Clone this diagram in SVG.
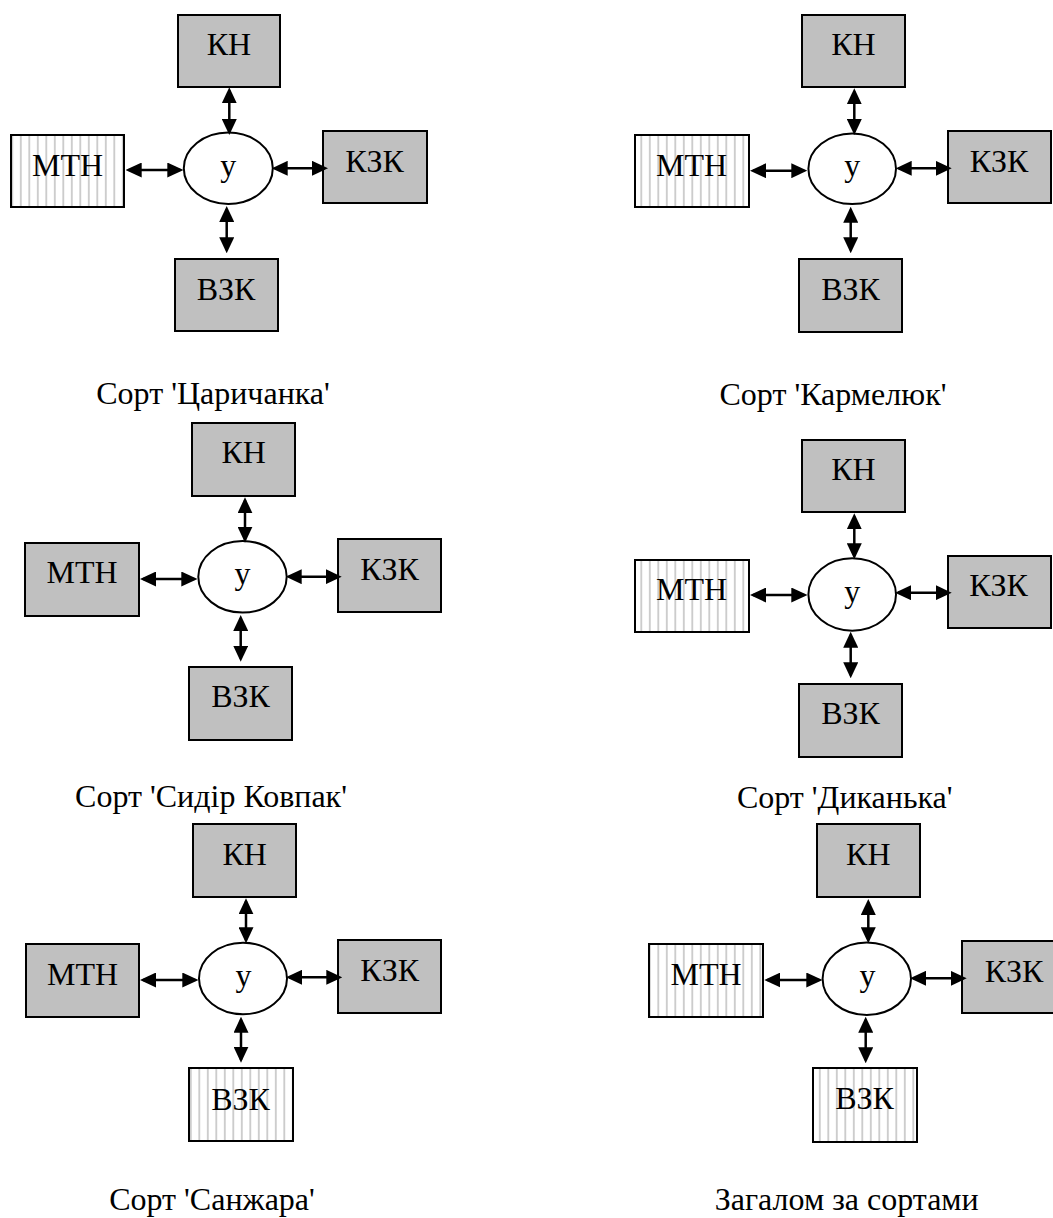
<svg xmlns="http://www.w3.org/2000/svg" width="1053" height="1218" viewBox="0 0 1053 1218">
<style>
.box{stroke:#000;stroke-width:2}
.gray{fill:#c0c0c0}
.hatch{fill:url(#vhatch)}
.ell{fill:#fff;stroke:#000;stroke-width:2}
.lbl{font-family:"Liberation Serif","Times New Roman",serif;font-size:32px;fill:#000;text-anchor:middle}
.cap{font-family:"Liberation Serif","Times New Roman",serif;font-size:32px;fill:#000;text-anchor:middle}
.conn line{stroke:#000;stroke-width:2.5;marker-start:url(#ah);marker-end:url(#ah)}
</style>
<defs>
<pattern id="vhatch" patternUnits="userSpaceOnUse" width="8.5" height="10">
<rect width="8.5" height="10" fill="#fff"/>
<rect x="3" width="1.6" height="10" fill="#c4c4c4"/>
</pattern>
<marker id="ah" viewBox="0 0 16 15" refX="13" refY="7.5" markerWidth="16" markerHeight="15" markerUnits="userSpaceOnUse" orient="auto-start-reverse">
<path d="M0,0 L16,7.5 L0,15 z" fill="#000"/>
</marker>
</defs>
<rect width="1053" height="1218" fill="#fff"/>

<!-- Diagram 1: Царичанка -->
<g id="d1-kn"><rect class="box gray" x="178" y="15" width="102" height="72"/><text class="lbl" x="229" y="55">КН</text></g>
<g id="d1-mtn"><rect class="box hatch" x="11" y="135" width="113" height="72"/><text class="lbl" x="67.5" y="176">МТН</text></g>
<g id="d1-u"><ellipse class="ell" cx="228.3" cy="168.3" rx="44.5" ry="35.7"/><text class="lbl" x="228.3" y="176">у</text></g>
<g id="d1-kzk"><rect class="box gray" x="323" y="131" width="104" height="72"/><text class="lbl" x="374.5" y="172">КЗК</text></g>
<g id="d1-vzk"><rect class="box gray" x="175" y="259" width="103" height="72"/><text class="lbl" x="226" y="300">ВЗК</text></g>
<text id="d1-cap" class="cap" x="213" y="404">Сорт 'Царичанка'</text>

<!-- Diagram 2: Кармелюк -->
<g id="d2-kn"><rect class="box gray" x="802" y="15" width="103" height="72"/><text class="lbl" x="853.5" y="55">КН</text></g>
<g id="d2-mtn"><rect class="box hatch" x="635" y="135" width="114" height="72"/><text class="lbl" x="691.5" y="176">МТН</text></g>
<g id="d2-u"><ellipse class="ell" cx="852.2" cy="168.7" rx="43.8" ry="35.3"/><text class="lbl" x="852.2" y="176">у</text></g>
<g id="d2-kzk"><rect class="box gray" x="948" y="131" width="103" height="72"/><text class="lbl" x="999" y="172">КЗК</text></g>
<g id="d2-vzk"><rect class="box gray" x="799" y="259" width="103" height="73"/><text class="lbl" x="850.5" y="299.5">ВЗК</text></g>
<text id="d2-cap" class="cap" x="833" y="405">Сорт 'Кармелюк'</text>

<!-- Diagram 3: Сидір Ковпак -->
<g id="d3-kn"><rect class="box gray" x="192" y="423" width="103" height="73"/><text class="lbl" x="243.7" y="463.3">КН</text></g>
<g id="d3-mtn"><rect class="box gray" x="25" y="543" width="114" height="73"/><text class="lbl" x="82" y="583.3">МТН</text></g>
<g id="d3-u"><ellipse class="ell" cx="242.5" cy="576.8" rx="44.2" ry="35.8"/><text class="lbl" x="242.5" y="584.3">у</text></g>
<g id="d3-kzk"><rect class="box gray" x="338" y="539" width="103" height="73"/><text class="lbl" x="389.5" y="580">КЗК</text></g>
<g id="d3-vzk"><rect class="box gray" x="189" y="667" width="103" height="73"/><text class="lbl" x="240.5" y="707.3">ВЗК</text></g>
<text id="d3-cap" class="cap" x="211" y="807">Сорт 'Сидір Ковпак'</text>

<!-- Diagram 4: Диканька -->
<g id="d4-kn"><rect class="box gray" x="802" y="440" width="103" height="72"/><text class="lbl" x="853.5" y="480">КН</text></g>
<g id="d4-mtn"><rect class="box hatch" x="635" y="560" width="114" height="72"/><text class="lbl" x="691.5" y="600">МТН</text></g>
<g id="d4-u"><ellipse class="ell" cx="852.2" cy="594.5" rx="43.8" ry="36.2"/><text class="lbl" x="852.2" y="602">у</text></g>
<g id="d4-kzk"><rect class="box gray" x="948" y="556" width="103" height="72"/><text class="lbl" x="998.5" y="596">КЗК</text></g>
<g id="d4-vzk"><rect class="box gray" x="799" y="684" width="103" height="73"/><text class="lbl" x="850.5" y="724">ВЗК</text></g>
<text id="d4-cap" class="cap" x="844.7" y="808">Сорт 'Диканька'</text>

<!-- Diagram 5: Санжара -->
<g id="d5-kn"><rect class="box gray" x="193" y="824" width="103" height="73"/><text class="lbl" x="244.7" y="865">КН</text></g>
<g id="d5-mtn"><rect class="box gray" x="26" y="944" width="113" height="73"/><text class="lbl" x="82.5" y="985">МТН</text></g>
<g id="d5-u"><ellipse class="ell" cx="243" cy="978.5" rx="44" ry="35.8"/><text class="lbl" x="243.5" y="986">у</text></g>
<g id="d5-kzk"><rect class="box gray" x="338" y="940" width="103" height="73"/><text class="lbl" x="389.7" y="981">КЗК</text></g>
<g id="d5-vzk"><rect class="box hatch" x="189" y="1068" width="104" height="73"/><text class="lbl" x="240.5" y="1110">ВЗК</text></g>
<text id="d5-cap" class="cap" x="212" y="1210">Сорт 'Санжара'</text>

<!-- Diagram 6: Загалом -->
<g id="d6-kn"><rect class="box gray" x="817" y="824" width="103" height="73"/><text class="lbl" x="868.3" y="865">КН</text></g>
<g id="d6-mtn"><rect class="box hatch" x="649" y="944" width="114" height="73"/><text class="lbl" x="706" y="985">МТН</text></g>
<g id="d6-u"><ellipse class="ell" cx="866.8" cy="978.8" rx="44.2" ry="36.2"/><text class="lbl" x="867.5" y="986.3">у</text></g>
<g id="d6-kzk"><rect class="box gray" x="962" y="941" width="103" height="72"/><text class="lbl" x="1014" y="981.7">КЗК</text></g>
<g id="d6-vzk"><rect class="box hatch" x="813" y="1068" width="104" height="74"/><text class="lbl" x="864.5" y="1109.3">ВЗК</text></g>
<text id="d6-cap" class="cap" x="846.7" y="1210">Загалом за сортами</text>

<g id="connectors" class="conn">
<line x1="229.3" y1="90.3" x2="229.3" y2="132"/>
<line x1="128.7" y1="170" x2="180.3" y2="170"/>
<line x1="274.7" y1="168.3" x2="325" y2="168.3"/>
<line x1="226.7" y1="209" x2="226.7" y2="250.3"/>

<line x1="854.3" y1="91.3" x2="854.3" y2="132"/>
<line x1="753" y1="170.7" x2="804.3" y2="170.7"/>
<line x1="898.7" y1="168.3" x2="948.7" y2="168.3"/>
<line x1="850.7" y1="209.7" x2="850.7" y2="250.3"/>

<line x1="245" y1="500.3" x2="245" y2="539.7"/>
<line x1="143" y1="579" x2="194.3" y2="579"/>
<line x1="288.7" y1="576.7" x2="338.7" y2="576.7"/>
<line x1="240.7" y1="618" x2="240.7" y2="658.7"/>

<line x1="854.3" y1="516.3" x2="854.3" y2="556.3"/>
<line x1="753" y1="595" x2="804.3" y2="595"/>
<line x1="898" y1="592.7" x2="948.7" y2="592.7"/>
<line x1="850.7" y1="634.7" x2="850.7" y2="675.3"/>

<line x1="246" y1="901.3" x2="246" y2="940.3"/>
<line x1="143" y1="980" x2="195.3" y2="980"/>
<line x1="289" y1="977.3" x2="339.3" y2="977.3"/>
<line x1="241" y1="1019.7" x2="241" y2="1059.7"/>

<line x1="868.3" y1="902" x2="868.3" y2="940.3"/>
<line x1="767.3" y1="980" x2="819.3" y2="980"/>
<line x1="913" y1="978.3" x2="963.7" y2="978.3"/>
<line x1="865.7" y1="1019.7" x2="865.7" y2="1060.3"/>
</g>
</svg>
